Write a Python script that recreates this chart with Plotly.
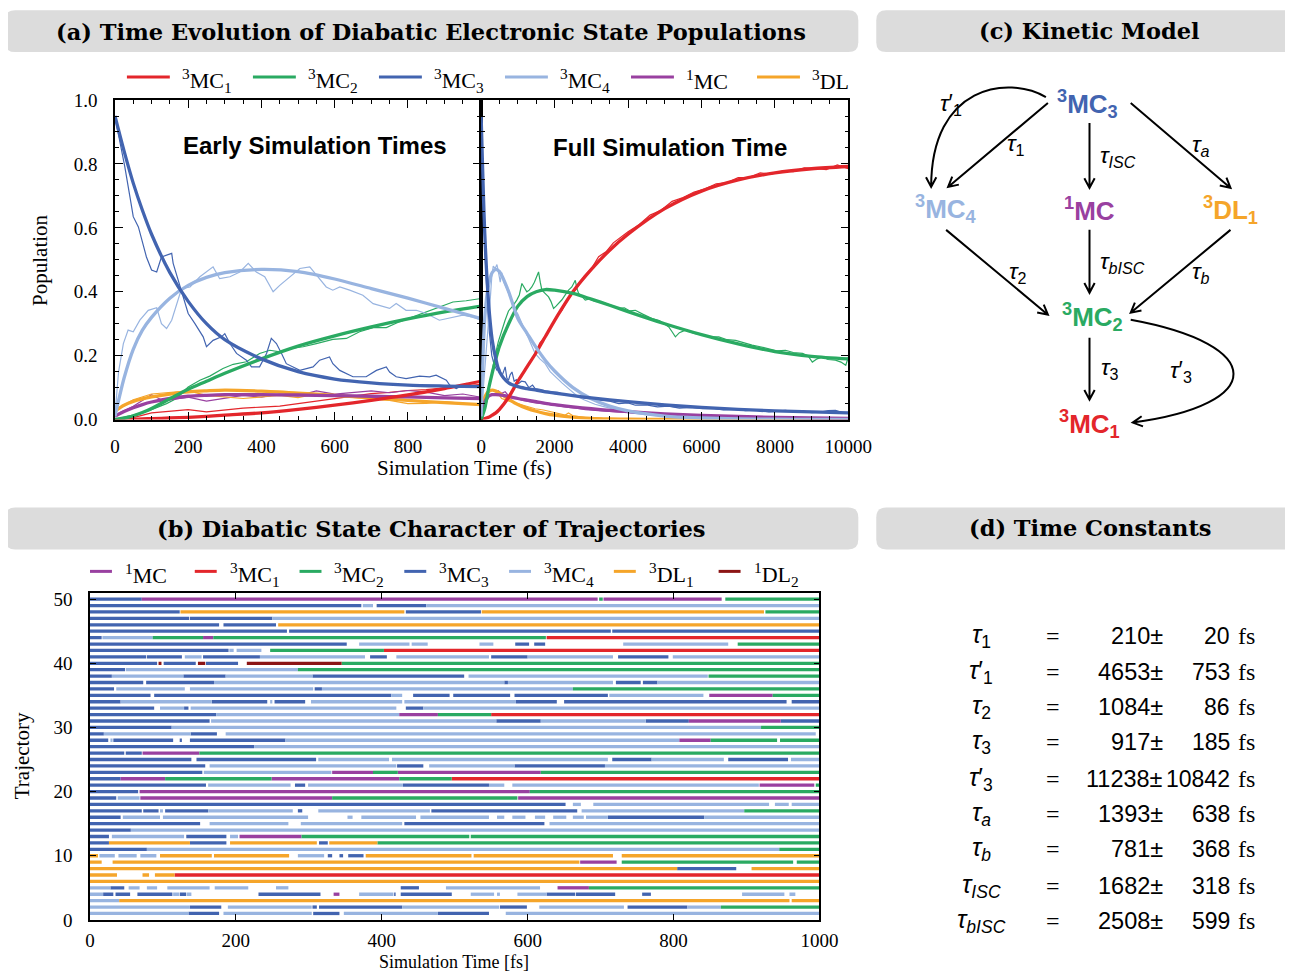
import math
import plotly.graph_objects as go

# The page photograph shows the figure as screen = S * page_px + (CX, CY); the html body adds an M px margin.
# Layout positions below are written in reference-picture pixels and mapped through that relation.
S, CX, CY, M = 0.98, 5.0, 10.0, 8.0
FW, FH = 1310, 982

# ---------------- DATA: panel (a) fitted kinetic-model curves ----------------
T_FIT_EARLY = [0, 25, 50, 75, 100, 150, 200, 250, 300, 400, 500, 600, 700, 800, 900, 1000]
FIT_EARLY_MC1 = [0, 0, 0.001, 0.002, 0.003, 0.005, 0.007, 0.01, 0.014, 0.021, 0.032, 0.045, 0.06, 0.077, 0.097, 0.12]
FIT_EARLY_MC2 = [0, 0.004, 0.012, 0.022, 0.035, 0.065, 0.095, 0.12, 0.145, 0.19, 0.23, 0.262, 0.29, 0.315, 0.337, 0.355]
FIT_EARLY_MC3 = [0.95, 0.84, 0.74, 0.655, 0.58, 0.46, 0.37, 0.30, 0.25, 0.19, 0.15, 0.127, 0.115, 0.108, 0.105, 0.103]
FIT_EARLY_MC4 = [0.01, 0.13, 0.22, 0.28, 0.32, 0.38, 0.42, 0.445, 0.46, 0.47, 0.463, 0.44, 0.41, 0.38, 0.348, 0.316]
FIT_EARLY_1MC = [0.01, 0.025, 0.037, 0.047, 0.055, 0.066, 0.073, 0.076, 0.078, 0.078, 0.077, 0.075, 0.073, 0.071, 0.068, 0.066]
FIT_EARLY_DL = [0.027, 0.045, 0.057, 0.065, 0.071, 0.08, 0.087, 0.09, 0.092, 0.089, 0.083, 0.076, 0.068, 0.06, 0.053, 0.047]

T_FIT_FULL = [0, 100, 200, 300, 400, 500, 750, 1000, 1250, 1500, 1750, 2000, 2500, 3000, 3500, 4000, 5000, 6000, 7000, 8000, 9000, 10000]
FIT_FULL_MC1 = [0, 0.003, 0.007, 0.014, 0.021, 0.032, 0.07, 0.12, 0.165, 0.21, 0.26, 0.31, 0.40, 0.47, 0.53, 0.58, 0.66, 0.715, 0.75, 0.772, 0.785, 0.792]
FIT_FULL_MC2 = [0, 0.035, 0.095, 0.145, 0.19, 0.23, 0.3, 0.355, 0.385, 0.4, 0.407, 0.405, 0.395, 0.377, 0.358, 0.338, 0.3, 0.266, 0.237, 0.213, 0.198, 0.19]
FIT_FULL_MC3 = [0.95, 0.58, 0.37, 0.25, 0.19, 0.15, 0.115, 0.103, 0.097, 0.092, 0.087, 0.083, 0.075, 0.068, 0.062, 0.056, 0.046, 0.038, 0.032, 0.027, 0.024, 0.021]
FIT_FULL_MC4 = [0.01, 0.32, 0.42, 0.46, 0.47, 0.463, 0.40, 0.316, 0.27, 0.225, 0.185, 0.152, 0.1, 0.065, 0.042, 0.027, 0.011, 0.005, 0.002, 0.001, 0.0005, 0.0002]
FIT_FULL_1MC = [0.01, 0.055, 0.073, 0.078, 0.078, 0.077, 0.072, 0.066, 0.061, 0.056, 0.051, 0.047, 0.04, 0.034, 0.029, 0.025, 0.018, 0.013, 0.01, 0.007, 0.005, 0.004]
FIT_FULL_DL = [0.027, 0.071, 0.087, 0.092, 0.089, 0.083, 0.064, 0.047, 0.035, 0.026, 0.019, 0.014, 0.008, 0.004, 0.002, 0.001, 0.0005, 0, 0, 0, 0, 0]

# ---------------- DATA: panel (a) raw populations (early times) ----------------
RAW_EARLY_MC3 = [(0, 0.948), (27, 0.791), (41, 0.697), (50, 0.635), (64, 0.603), (86, 0.509), (100, 0.468), (114, 0.462),
                 (127, 0.509), (141, 0.515), (155, 0.52), (159, 0.489), (182, 0.405), (200, 0.332), (218, 0.301), (241, 0.259),
                 (250, 0.228), (268, 0.248), (291, 0.259), (300, 0.269), (314, 0.238), (332, 0.207), (359, 0.186), (373, 0.165),
                 (395, 0.165), (414, 0.207), (427, 0.254), (441, 0.238), (455, 0.207), (468, 0.175), (505, 0.154), (541, 0.165),
                 (559, 0.186), (586, 0.196), (595, 0.175), (614, 0.154), (650, 0.134), (686, 0.134), (714, 0.154), (741, 0.165),
                 (750, 0.149), (768, 0.134), (795, 0.128), (832, 0.136), (859, 0.134), (877, 0.139), (905, 0.123), (914, 0.108),
                 (932, 0.097), (959, 0.113), (977, 0.102), (1000, 0.102)]
RAW_EARLY_MC4 = [(0, 0.014), (10, 0.15), (23, 0.238), (36, 0.28), (50, 0.275), (68, 0.311), (91, 0.342), (114, 0.35), (127, 0.3),
                 (141, 0.285), (155, 0.311), (182, 0.41), (205, 0.415), (232, 0.447), (268, 0.478), (286, 0.441), (314, 0.447),
                 (341, 0.462), (364, 0.489), (386, 0.462), (409, 0.447), (432, 0.4), (450, 0.42), (477, 0.447), (505, 0.473),
                 (532, 0.478), (550, 0.452), (577, 0.415), (595, 0.405), (614, 0.415), (641, 0.405), (677, 0.389), (705, 0.363),
                 (732, 0.353), (750, 0.348), (768, 0.363), (795, 0.342), (823, 0.342), (850, 0.332), (886, 0.311), (923, 0.321),
                 (950, 0.327), (977, 0.321), (1000, 0.311)]
RAW_EARLY_MC2 = [(0, 0.003), (50, 0.014), (95, 0.029), (141, 0.05), (168, 0.066), (200, 0.102), (232, 0.123), (259, 0.136),
                 (295, 0.16), (323, 0.173), (359, 0.181), (395, 0.207), (423, 0.217), (450, 0.212), (477, 0.222), (514, 0.228),
                 (550, 0.238), (595, 0.251), (632, 0.254), (668, 0.275), (705, 0.288), (741, 0.288), (777, 0.306), (814, 0.322),
                 (850, 0.337), (886, 0.353), (923, 0.368), (959, 0.372), (1000, 0.379)]
RAW_EARLY_MC1 = [(0, 0), (50, 0.006), (100, 0.021), (150, 0.025), (200, 0.031), (250, 0.024), (300, 0.03), (350, 0.036),
                 (400, 0.039), (450, 0.042), (500, 0.05), (550, 0.058), (600, 0.066), (650, 0.074), (700, 0.081), (750, 0.085),
                 (800, 0.091), (850, 0.094), (900, 0.1), (950, 0.106), (1000, 0.11)]
RAW_EARLY_1MC = [(0, 0.014), (50, 0.042), (100, 0.078), (130, 0.06), (150, 0.062), (200, 0.07), (250, 0.058), (300, 0.066),
                 (350, 0.076), (400, 0.07), (450, 0.08), (500, 0.074), (550, 0.09), (600, 0.08), (650, 0.086), (700, 0.09),
                 (750, 0.084), (800, 0.091), (850, 0.086), (900, 0.075), (950, 0.08), (1000, 0.07)]
RAW_EARLY_DL = [(0, 0.03), (50, 0.062), (100, 0.08), (150, 0.086), (200, 0.09), (250, 0.076), (300, 0.07), (350, 0.066),
                (400, 0.071), (450, 0.076), (500, 0.069), (550, 0.08), (600, 0.074), (650, 0.07), (700, 0.064), (750, 0.06),
                (800, 0.05), (850, 0.051), (900, 0.056), (950, 0.05), (1000, 0.045)]

# ---------------- DATA: panel (a) raw populations (full time) ----------------
RAW_FULL_MC3 = [(0, 0.95), (50, 0.75), (110, 0.51), (200, 0.30), (290, 0.2), (360, 0.17), (430, 0.155), (500, 0.16), (560, 0.134),
                (610, 0.15), (655, 0.165), (700, 0.13), (745, 0.123), (790, 0.14), (840, 0.149), (900, 0.12), (960, 0.125),
                (1020, 0.113), (1100, 0.12), (1200, 0.118), (1300, 0.1), (1400, 0.108), (1470, 0.097), (1600, 0.095),
                (1750, 0.09), (1930, 0.087), (2100, 0.085), (2250, 0.078), (2380, 0.076), (2600, 0.073), (2840, 0.066),
                (3050, 0.065), (3290, 0.06), (3500, 0.058), (3750, 0.05), (4000, 0.052), (4200, 0.045), (4500, 0.046),
                (4800, 0.04), (5100, 0.042), (5400, 0.036), (5700, 0.038), (6020, 0.034), (6300, 0.035), (6600, 0.03),
                (6930, 0.032), (7200, 0.028), (7500, 0.03), (7840, 0.024), (8100, 0.028), (8290, 0.029), (8500, 0.025),
                (8750, 0.027), (9000, 0.022), (9200, 0.023), (9450, 0.028), (9650, 0.029), (9850, 0.022), (10000, 0.019)]
RAW_FULL_MC4 = [(0, 0.01), (100, 0.15), (200, 0.3), (250, 0.38), (290, 0.447), (330, 0.48), (380, 0.473), (430, 0.485),
                (470, 0.462), (520, 0.43), (560, 0.46), (620, 0.43), (680, 0.415), (745, 0.395), (800, 0.38), (860, 0.36),
                (930, 0.342), (1000, 0.33), (1080, 0.31), (1150, 0.29), (1200, 0.28), (1300, 0.25), (1400, 0.225),
                (1470, 0.207), (1600, 0.19), (1745, 0.175), (1880, 0.15), (2020, 0.134), (2200, 0.115), (2380, 0.097),
                (2500, 0.085), (2650, 0.071), (2800, 0.062), (2930, 0.055), (3100, 0.048), (3290, 0.042), (3500, 0.035),
                (3745, 0.029), (4000, 0.022), (4200, 0.019), (4600, 0.014), (5100, 0.01), (6000, 0.008), (6930, 0.006),
                (8000, 0.004), (9000, 0.003), (10000, 0.003)]
RAW_FULL_MC2 = [(0, 0), (100, 0.04), (200, 0.09), (290, 0.15), (380, 0.2), (470, 0.245), (560, 0.28), (650, 0.31), (745, 0.34),
                (860, 0.355), (970, 0.374), (1040, 0.39), (1110, 0.426), (1180, 0.41), (1245, 0.4), (1310, 0.405), (1380, 0.415),
                (1450, 0.43), (1510, 0.445), (1564, 0.462), (1610, 0.43), (1655, 0.405), (1740, 0.395), (1836, 0.384),
                (1900, 0.37), (1973, 0.348), (2040, 0.355), (2110, 0.363), (2200, 0.375), (2290, 0.39), (2380, 0.405),
                (2470, 0.415), (2564, 0.436), (2610, 0.41), (2655, 0.395), (2750, 0.385), (2836, 0.374), (2950, 0.378),
                (3100, 0.37), (3290, 0.368), (3450, 0.36), (3600, 0.355), (3745, 0.348), (3900, 0.35), (4050, 0.34),
                (4200, 0.342), (4400, 0.33), (4655, 0.316), (4850, 0.31), (5000, 0.3), (5110, 0.29), (5200, 0.275),
                (5290, 0.259), (5400, 0.272), (5560, 0.28), (5800, 0.27), (6020, 0.264), (6250, 0.26), (6470, 0.259),
                (6700, 0.25), (6930, 0.248), (7150, 0.24), (7380, 0.233), (7600, 0.228), (7840, 0.222), (8050, 0.215),
                (8290, 0.217), (8500, 0.21), (8750, 0.207), (8900, 0.2), (9020, 0.18), (9150, 0.19), (9290, 0.196),
                (9450, 0.188), (9650, 0.186), (9800, 0.18), (9930, 0.17), (10000, 0.196)]
RAW_FULL_MC1 = [(0, 0), (200, 0.005), (400, 0.022), (600, 0.047), (800, 0.083), (1000, 0.117), (1200, 0.158), (1400, 0.19),
                (1600, 0.24), (1800, 0.268), (2000, 0.313), (2200, 0.342), (2400, 0.385), (2600, 0.41), (2800, 0.448),
                (3000, 0.472), (3200, 0.51), (3400, 0.525), (3600, 0.553), (3800, 0.57), (4000, 0.588), (4300, 0.61),
                (4600, 0.64), (4900, 0.655), (5200, 0.683), (5500, 0.695), (5800, 0.712), (6100, 0.722), (6400, 0.738),
                (6700, 0.742), (7000, 0.757), (7300, 0.758), (7600, 0.772), (7900, 0.768), (8200, 0.778), (8500, 0.776),
                (8800, 0.788), (9100, 0.786), (9400, 0.782), (9700, 0.797), (10000, 0.785)]
RAW_FULL_1MC = [(0, 0.003), (100, 0.04), (200, 0.071), (290, 0.08), (380, 0.076), (470, 0.09), (560, 0.082), (655, 0.087),
                (745, 0.075), (840, 0.071), (950, 0.068), (1110, 0.061), (1250, 0.058), (1470, 0.052), (1700, 0.05),
                (1930, 0.045), (2150, 0.042), (2380, 0.038), (2600, 0.036), (2840, 0.031), (3050, 0.03), (3290, 0.027),
                (3700, 0.024), (4200, 0.021), (4600, 0.02), (5100, 0.017), (5600, 0.015), (6100, 0.012), (6930, 0.01),
                (7800, 0.008), (8750, 0.006), (10000, 0.004)]
RAW_FULL_DL = [(0, 0.015), (80, 0.06), (150, 0.087), (220, 0.09), (290, 0.094), (360, 0.09), (430, 0.087), (500, 0.075),
               (560, 0.066), (700, 0.06), (840, 0.055), (980, 0.05), (1110, 0.045), (1300, 0.038), (1470, 0.034),
               (1700, 0.03), (1930, 0.024), (2100, 0.02), (2290, 0.014), (2380, 0.021), (2500, 0.012), (2840, 0.006),
               (3300, 0.004), (4200, 0.003), (6000, 0.002), (10000, 0.001)]

# ---------------- DATA: panel (b) state of each trajectory over time ----------------
TRAJ_SEGMENTS = {
    50: [("MC3", 0, 71), ("1MC", 71, 696), ("MC2", 698, 703), ("1MC", 704, 866), ("MC2", 871, 1000)],
    49: [("MC3", 0, 372), ("MC4", 374, 388), ("MC3", 393, 461), ("MC4", 461, 1000)],
    48: [("MC3", 0, 123), ("DL1", 124, 431), ("MC3", 433, 536), ("DL1", 537, 924), ("MC2", 926, 1000)],
    47: [("MC3", 0, 136), ("MC3", 137, 250), ("MC4", 250, 1000)],
    46: [("MC3", 0, 177), ("MC3", 183, 255), ("DL1", 258, 1000)],
    45: [("MC3", 0, 270), ("MC3", 273, 714), ("MC3", 716, 1000)],
    44: [("MC3", 0, 16), ("MC4", 17, 86), ("MC2", 86, 155), ("1MC", 155, 169), ("MC2", 169, 625), ("MC1", 626, 1000)],
    43: [("MC3", 0, 352), ("MC4", 369, 438), ("MC4", 441, 463), ("MC4", 534, 553), ("MC3", 583, 602), ("MC3", 609, 624),
         ("MC4", 731, 875), ("MC2", 888, 1000)],
    42: [("MC3", 0, 190), ("MC4", 191, 197), ("MC4", 201, 235), ("MC2", 247, 403), ("MC1", 403, 1000)],
    41: [("MC3", 0, 77), ("MC3", 78, 126), ("MC4", 130, 153), ("MC3", 155, 233), ("MC4", 233, 377), ("MC3", 384, 407),
         ("MC4", 420, 547), ("MC3", 550, 600), ("MC4", 600, 717), ("MC3", 724, 793), ("MC4", 799, 1000)],
    40: [("MC3", 0, 92), ("DL2", 94, 98), ("MC3", 101, 145), ("DL2", 148, 158), ("MC3", 159, 203), ("DL2", 215, 345),
         ("MC2", 345, 1000)],
    39: [("MC3", 0, 48), ("MC4", 49, 285), ("MC2", 285, 1000)],
    38: [("MC3", 0, 30), ("MC4", 30, 128), ("MC3", 128, 186), ("MC4", 186, 305), ("MC3", 305, 513), ("MC4", 519, 847),
         ("MC2", 848, 1000)],
    37: [("MC3", 0, 73), ("MC3", 77, 170), ("MC4", 170, 568), ("MC3", 568, 573), ("MC4", 573, 717), ("MC3", 721, 755),
         ("MC3", 758, 778), ("MC4", 778, 1000)],
    36: [("MC3", 0, 33), ("MC4", 36, 130), ("MC4", 137, 306), ("MC3", 308, 318), ("MC4", 318, 662), ("MC2", 662, 1000)],
    35: [("MC3", 0, 83), ("MC3", 88, 413), ("MC4", 413, 428), ("MC3", 443, 493), ("MC3", 498, 576), ("MC3", 582, 710),
         ("MC4", 712, 841), ("1MC", 849, 936), ("MC2", 936, 1000)],
    34: [("MC3", 0, 42), ("MC4", 42, 167), ("MC3", 167, 243), ("MC4", 247, 250), ("MC3", 253, 295), ("MC4", 303, 428),
         ("MC4", 431, 584), ("MC3", 584, 640), ("MC3", 650, 955), ("MC3", 962, 1000)],
    33: [("MC3", 0, 88), ("MC4", 96, 129), ("MC3", 129, 135), ("MC4", 138, 420), ("MC3", 433, 457), ("MC4", 457, 1000)],
    32: [("MC3", 0, 173), ("MC4", 173, 424), ("1MC", 424, 477), ("MC2", 477, 550), ("MC1", 550, 1000)],
    31: [("MC3", 0, 164), ("MC4", 166, 557), ("MC3", 557, 618), ("MC4", 618, 762), ("MC3", 762, 821), ("1MC", 821, 947),
         ("MC3", 947, 1000)],
    30: [("MC3", 0, 112), ("MC4", 112, 920), ("MC2", 920, 1000)],
    29: [("MC3", 0, 19), ("MC4", 19, 138), ("MC3", 138, 174), ("MC4", 186, 995)],
    28: [("MC3", 0, 25), ("MC4", 28, 31), ("MC3", 32, 114), ("MC3", 123, 126), ("MC3", 137, 268), ("MC4", 268, 808),
         ("1MC", 808, 851), ("MC2", 851, 942), ("MC2", 946, 1000)],
    27: [("MC3", 0, 225), ("MC4", 225, 1000)],
    26: [("MC3", 0, 47), ("MC3", 49, 71), ("1MC", 72, 150), ("MC2", 150, 1000)],
    25: [("MC3", 0, 139), ("MC3", 146, 310), ("MC4", 313, 410), ("MC4", 414, 710), ("MC3", 716, 770), ("MC4", 770, 869),
         ("MC3", 875, 957), ("MC4", 961, 1000)],
    24: [("MC3", 0, 158), ("MC4", 164, 420), ("MC3", 421, 457), ("MC4", 465, 582), ("MC3", 582, 706), ("MC4", 706, 1000)],
    23: [("MC3", 0, 154), ("MC4", 156, 331), ("1MC", 332, 388), ("MC2", 388, 422), ("1MC", 422, 618), ("MC2", 618, 1000)],
    22: [("MC3", 0, 42), ("1MC", 42, 103), ("MC2", 103, 249), ("1MC", 249, 424), ("MC2", 424, 496), ("MC1", 496, 1000)],
    21: [("MC3", 0, 159), ("MC4", 162, 275), ("MC3", 281, 295), ("MC4", 299, 429), ("MC3", 429, 547), ("MC4", 547, 568),
         ("MC4", 579, 917), ("1MC", 918, 993), ("MC2", 995, 1000)],
    20: [("MC3", 0, 66), ("1MC", 68, 603), ("MC2", 603, 1000)],
    19: [("MC3", 0, 36), ("MC4", 38, 68), ("1MC", 69, 332), ("MC2", 332, 586), ("1MC", 587, 1000)],
    18: [("MC3", 0, 652), ("MC4", 662, 673), ("MC4", 690, 931), ("MC4", 939, 958), ("MC4", 962, 1000)],
    17: [("MC3", 0, 71), ("MC3", 73, 94), ("MC4", 96, 100), ("MC3", 103, 162), ("MC4", 162, 278), ("MC3", 285, 291),
         ("MC4", 313, 466), ("MC3", 468, 668), ("MC4", 674, 897), ("MC2", 897, 1000)],
    16: [("MC3", 0, 42), ("MC4", 45, 96), ("MC4", 100, 299), ("MC4", 353, 360), ("MC4", 372, 447), ("MC4", 453, 547),
         ("MC4", 558, 568), ("MC4", 579, 597), ("MC4", 610, 624), ("MC4", 635, 653), ("MC4", 662, 677), ("MC4", 680, 710),
         ("MC3", 710, 842), ("MC4", 842, 1000)],
    15: [("MC3", 0, 151), ("MC4", 164, 272), ("MC4", 289, 428), ("MC3", 431, 623), ("MC4", 630, 1000)],
    14: [("MC3", 0, 56), ("MC4", 56, 1000)],
    13: [("MC3", 0, 26), ("MC4", 30, 129), ("MC3", 132, 187), ("MC4", 192, 203), ("1MC", 205, 290), ("MC2", 290, 520),
         ("MC2", 522, 1000)],
    12: [("MC3", 0, 26), ("DL1", 26, 137), ("MC3", 137, 187), ("DL1", 192, 311), ("MC3", 314, 326), ("DL1", 328, 394),
         ("MC2", 394, 1000)],
    11: [("MC3", 0, 78), ("MC4", 78, 945), ("MC2", 945, 1000)],
    10: [("DL1", 0, 11), ("MC4", 13, 34), ("MC4", 39, 64), ("MC4", 69, 91), ("DL1", 96, 167), ("DL1", 170, 273),
         ("MC4", 285, 321), ("MC3", 326, 332), ("MC3", 342, 347), ("MC3", 354, 375), ("DL1", 378, 523), ("DL1", 526, 717),
         ("DL1", 729, 1000)],
    9: [("DL1", 0, 16), ("DL1", 31, 671), ("1MC", 672, 722), ("MC2", 729, 964), ("MC2", 969, 1000)],
    8: [("DL1", 0, 805), ("MC3", 805, 886), ("DL1", 907, 1000)],
    7: [("DL1", 0, 37), ("DL1", 72, 81), ("DL1", 89, 116), ("MC1", 116, 1000)],
    6: [("DL1", 0, 1000)],
    5: [("MC4", 0, 28), ("MC3", 28, 47), ("MC4", 53, 68), ("MC4", 78, 92), ("MC4", 106, 164), ("MC4", 171, 217),
        ("MC4", 255, 272), ("MC3", 426, 451), ("MC4", 488, 617), ("1MC", 641, 684), ("MC2", 684, 1000)],
    4: [("MC4", 0, 18), ("MC3", 18, 32), ("MC3", 35, 55), ("MC3", 65, 113), ("MC4", 114, 122), ("MC3", 123, 132),
        ("MC4", 133, 139), ("MC3", 231, 316), ("1MC", 334, 342), ("MC4", 369, 416), ("MC3", 417, 419), ("MC3", 426, 496),
        ("MC4", 522, 554), ("MC4", 558, 562), ("MC4", 586, 626), ("MC3", 626, 665), ("MC3", 666, 720), ("MC3", 757, 769),
        ("MC4", 894, 952), ("MC4", 959, 967)],
    3: [("MC4", 0, 40), ("DL1", 40, 959), ("DL1", 962, 1000)],
    2: [("MC4", 0, 137), ("MC3", 137, 180), ("MC4", 189, 304), ("MC3", 305, 311), ("MC3", 314, 428), ("MC4", 428, 561),
        ("MC3", 562, 599), ("MC4", 616, 732), ("MC3", 737, 819), ("MC4", 819, 865), ("MC2", 865, 1000)],
    1: [("MC4", 0, 135), ("MC3", 135, 177), ("MC4", 183, 304), ("MC3", 306, 342), ("MC4", 348, 477), ("MC3", 477, 547),
        ("MC4", 570, 1000)],
}

# ---------------- DATA: panel (d) time constants ----------------
TAU_LABELS = ["<i>τ</i><sub>1</sub>", "<i>τ</i>′<sub>1</sub>", "<i>τ</i><sub>2</sub>", "<i>τ</i><sub>3</sub>",
              "<i>τ</i>′<sub>3</sub>", "<i>τ</i><sub><i>a</i></sub>", "<i>τ</i><sub><i>b</i></sub>",
              "<i>τ</i><sub><i>ISC</i></sub>", "<i>τ</i><sub><i>bISC</i></sub>"]
TAU_VALUES = [210, 4653, 1084, 917, 11238, 1393, 781, 1682, 2508]
TAU_ERRORS = [20, 753, 86, 185, 10842, 638, 368, 318, 599]

# ---------------- styles ----------------
COL = {"MC1": "#e3262b", "MC2": "#2aaa62", "MC3": "#4264b0", "MC4": "#98b4e0",
       "1MC": "#9940a0", "DL1": "#f5a52a", "DL2": "#8c1515"}
NAME = {"MC1": "<sup>3</sup>MC<sub>1</sub>", "MC2": "<sup>3</sup>MC<sub>2</sub>", "MC3": "<sup>3</sup>MC<sub>3</sub>",
        "MC4": "<sup>3</sup>MC<sub>4</sub>", "1MC": "<sup>1</sup>MC", "DL1": "<sup>3</sup>DL<sub>1</sub>",
        "DL2": "<sup>1</sup>DL<sub>2</sub>"}
LEG_A_NAME = dict(NAME, DL1="<sup>3</sup>DL")
SERIF = "Liberation Serif"
HSERIF = "DejaVu Serif"
SANS = "Liberation Sans"


def fx(x):
    return (x - CX) / S - M


def fy(y):
    return (y - CY) / S - M


def px(x):
    return fx(x) / FW


def py(y):
    return 1 - fy(y) / FH


fig = go.Figure()

# ---- panel (a) raw data (thin) ----
raw_early = {"MC1": RAW_EARLY_MC1, "MC2": RAW_EARLY_MC2, "MC3": RAW_EARLY_MC3, "MC4": RAW_EARLY_MC4,
             "1MC": RAW_EARLY_1MC, "DL1": RAW_EARLY_DL}
raw_full = {"MC1": RAW_FULL_MC1, "MC2": RAW_FULL_MC2, "MC3": RAW_FULL_MC3, "MC4": RAW_FULL_MC4,
            "1MC": RAW_FULL_1MC, "DL1": RAW_FULL_DL}
for st, pts in raw_early.items():
    fig.add_trace(go.Scatter(x=[p[0] for p in pts], y=[p[1] for p in pts], mode="lines", xaxis="x", yaxis="y",
                             line=dict(color=COL[st], width=1.2), showlegend=False, hoverinfo="skip"))
for st, pts in raw_full.items():
    fig.add_trace(go.Scatter(x=[p[0] for p in pts], y=[p[1] for p in pts], mode="lines", xaxis="x2", yaxis="y2",
                             line=dict(color=COL[st], width=1.2), showlegend=False, hoverinfo="skip"))

fit_early = {"MC1": FIT_EARLY_MC1, "MC2": FIT_EARLY_MC2, "MC3": FIT_EARLY_MC3, "MC4": FIT_EARLY_MC4,
             "1MC": FIT_EARLY_1MC, "DL1": FIT_EARLY_DL}
fit_full = {"MC1": FIT_FULL_MC1, "MC2": FIT_FULL_MC2, "MC3": FIT_FULL_MC3, "MC4": FIT_FULL_MC4,
            "1MC": FIT_FULL_1MC, "DL1": FIT_FULL_DL}
for st in ["DL1", "1MC", "MC1", "MC2", "MC4", "MC3"]:
    fig.add_trace(go.Scatter(x=T_FIT_EARLY, y=fit_early[st], mode="lines", xaxis="x", yaxis="y",
                             line=dict(color=COL[st], width=3.3, shape="spline", smoothing=0.8), showlegend=False))
    fig.add_trace(go.Scatter(x=T_FIT_FULL, y=fit_full[st], mode="lines", xaxis="x2", yaxis="y2",
                             line=dict(color=COL[st], width=3.3, shape="spline", smoothing=0.8), showlegend=False))

# ---- panel (b) segments ----
for st in ["MC3", "MC4", "1MC", "MC1", "MC2", "DL1", "DL2"]:
    xs, ys = [], []
    for traj, segs in TRAJ_SEGMENTS.items():
        for s, a, b in segs:
            if s == st:
                xs += [a, b, None]
                ys += [traj, traj, None]
    fig.add_trace(go.Scatter(x=xs, y=ys, mode="lines", xaxis="x3", yaxis="y3",
                             line=dict(color=COL[st], width=3.3), showlegend=False, hoverinfo="skip"))

axis_common = dict(showline=True, linecolor="black", linewidth=1.5, mirror="ticks", ticks="inside", ticklen=8,
                   tickwidth=1.2, tickcolor="black", showgrid=False, zeroline=False,
                   tickfont=dict(family=SERIF, size=19, color="black"))

shapes = []
annotations = []


def rounded_rect(x0, y0, x1, y1, r, color):
    p = (f"M {px(x0 + r)} {py(y0)} L {px(x1 - r)} {py(y0)} Q {px(x1)} {py(y0)} {px(x1)} {py(y0 + r)} "
         f"L {px(x1)} {py(y1 - r)} Q {px(x1)} {py(y1)} {px(x1 - r)} {py(y1)} L {px(x0 + r)} {py(y1)} "
         f"Q {px(x0)} {py(y1)} {px(x0)} {py(y1 - r)} L {px(x0)} {py(y0 + r)} Q {px(x0)} {py(y0)} {px(x0 + r)} {py(y0)} Z")
    return dict(type="path", xref="paper", yref="paper", path=p, fillcolor=color, line=dict(width=0), layer="below")


HDR = "#dcdcdc"
shapes.append(rounded_rect(5, 10, 860, 52, 10, HDR))
shapes.append(rounded_rect(878, 10, 1320, 52, 10, HDR))
shapes.append(rounded_rect(5, 508, 860, 550, 10, HDR))
shapes.append(rounded_rect(878, 508, 1320, 550, 10, HDR))


def text(x, y, t, size, family=SERIF, color="black", xanchor="center", angle=0, bold=False):
    if bold:
        t = f"<b>{t}</b>"
    annotations.append(dict(x=px(x), y=py(y), xref="paper", yref="paper", text=t, showarrow=False,
                            font=dict(family=family, size=size, color=color), xanchor=xanchor, yanchor="middle",
                            textangle=angle))


text(432, 32, "(a) Time Evolution of Diabatic Electronic State Populations", 22.5, family=HSERIF, bold=True)
text(432, 530, "(b) Diabatic State Character of Trajectories", 22.5, family=HSERIF, bold=True)
text(1092, 31, "(c) Kinetic Model", 22.5, family=HSERIF, bold=True)
text(1092, 529, "(d) Time Constants", 22.5, family=HSERIF, bold=True)

# legend (a)
for k, st in enumerate(["MC1", "MC2", "MC3", "MC4", "1MC", "DL1"]):
    x0 = 127 + k * 126.3
    shapes.append(dict(type="line", xref="paper", yref="paper", x0=px(x0), x1=px(x0 + 43), y0=py(77), y1=py(77),
                       line=dict(color=COL[st], width=3)))
    text(x0 + 53, 80, LEG_A_NAME[st], 22, xanchor="left")

# legend (b)
for k, st in enumerate(["1MC", "MC1", "MC2", "MC3", "MC4", "DL1", "DL2"]):
    x0 = 90 + k * 105
    shapes.append(dict(type="line", xref="paper", yref="paper", x0=px(x0), x1=px(x0 + 22), y0=py(572), y1=py(572),
                       line=dict(color=COL[st], width=3)))
    text(x0 + 33, 575, NAME[st], 22, xanchor="left")

# axis titles
text(40, 260, "Population", 21, angle=-90)
text(465, 468, "Simulation Time (fs)", 21)
text(22, 757, "Trajectory", 21, angle=-90)
text(455, 963, "Simulation Time [fs]", 18)
text(315, 146, "Early Simulation Times", 24, family=SANS, bold=True)
text(671, 148, "Full Simulation Time", 24, family=SANS, bold=True)

# ---- panel (c) kinetic model ----
NODES = {"MC3": (1090, 104), "MC4": (948, 209), "1MC": (1092, 210), "DL1": (1233, 210), "MC2": (1095, 317),
         "MC1": (1092, 424)}
for st, (x, y) in NODES.items():
    text(x, y, NAME[st], 26, family=SANS, color=COL[st], bold=True)


def head(tip, frm, L=11, ang=28):
    dx, dy = tip[0] - frm[0], tip[1] - frm[1]
    n = math.hypot(dx, dy)
    dx, dy = dx / n, dy / n
    pts = []
    for a in (ang, -ang):
        r = math.radians(a)
        rx = dx * math.cos(r) - dy * math.sin(r)
        ry = dx * math.sin(r) + dy * math.cos(r)
        pts.append((tip[0] - L * rx, tip[1] - L * ry))
    return f"M {px(pts[0][0])} {py(pts[0][1])} L {px(tip[0])} {py(tip[1])} L {px(pts[1][0])} {py(pts[1][1])}"


def arrow(p0, p1):
    path = f"M {px(p0[0])} {py(p0[1])} L {px(p1[0])} {py(p1[1])} " + head(p1, p0)
    shapes.append(dict(type="path", xref="paper", yref="paper", path=path, line=dict(color="black", width=2)))


def curved(p0, c1, c2, p3):
    path = (f"M {px(p0[0])} {py(p0[1])} C {px(c1[0])} {py(c1[1])} {px(c2[0])} {py(c2[1])} {px(p3[0])} {py(p3[1])} "
            + head(p3, c2))
    shapes.append(dict(type="path", xref="paper", yref="paper", path=path, line=dict(color="black", width=2)))


arrow((1091.7, 123), (1091.7, 188))
arrow((1050, 103), (950, 187))
arrow((1133, 103), (1233, 188))
arrow((948, 230), (1050, 315))
arrow((1091.7, 230), (1091.7, 293))
arrow((1233, 230), (1133, 313))
arrow((1091.7, 338), (1091.7, 400))
curved((1048, 97), (1010, 75), (933, 85), (933, 187))
curved((1133, 320), (1270, 345), (1270, 405), (1135, 423))

for lab, (x, y) in [("<i>τ</i>′<sub>1</sub>", (953, 104)), ("<i>τ</i><sub>1</sub>", (1018, 145)),
                    ("<i>τ</i><sub><i>ISC</i></sub>", (1120, 157)), ("<i>τ</i><sub><i>a</i></sub>", (1203, 146)),
                    ("<i>τ</i><sub>2</sub>", (1020, 273)), ("<i>τ</i><sub><i>bISC</i></sub>", (1125, 263)),
                    ("<i>τ</i><sub><i>b</i></sub>", (1203, 273)), ("<i>τ</i><sub>3</sub>", (1112, 369)),
                    ("<i>τ</i>′<sub>3</sub>", (1183, 372))]:
    text(x, y, lab, 23, family=SANS)

# ---- panel (d) table ----
ROW_Y = [637, 673, 708, 743, 780, 815, 850, 887, 922]
for lab, v, e, y in zip(TAU_LABELS, TAU_VALUES, TAU_ERRORS, ROW_Y):
    text(983, y, lab, 25, family=SANS)
    text(1055, y, "=", 24, family=SERIF)
    text(1167, y, f"{v}±", 23.5, family=SANS, xanchor="right")
    text(1235, y, f"{e}", 23, family=SANS, xanchor="right")
    text(1239, y, "fs", 24, family=SERIF, xanchor="left")

fig.update_layout(
    width=FW, height=FH, margin=dict(l=0, r=0, t=0, b=0), paper_bgcolor="white", plot_bgcolor="white",
    showlegend=False,
    xaxis=dict(axis_common, domain=[px(115), px(482)], range=[0, 1000], tickvals=[0, 200, 400, 600, 800],
               minor=dict(ticks="inside", ticklen=4, dtick=50, tickcolor="black", showgrid=False),
               anchor="y", ticklabelstandoff=9),
    yaxis=dict(axis_common, domain=[py(420), py(100)], range=[0, 1], dtick=0.2, tickformat=".1f",
               minor=dict(ticks="inside", ticklen=4, dtick=0.05, tickcolor="black", showgrid=False),
               anchor="x", ticklabelstandoff=12),
    xaxis2=dict(axis_common, domain=[px(482), px(850)], range=[0, 10000], dtick=2000, tickformat="d",
                minor=dict(ticks="inside", ticklen=4, dtick=500, tickcolor="black", showgrid=False),
                anchor="y2", ticklabelstandoff=9),
    yaxis2=dict(axis_common, domain=[py(420), py(100)], range=[0, 1], dtick=0.2, showticklabels=False,
                minor=dict(ticks="inside", ticklen=4, dtick=0.05, tickcolor="black", showgrid=False),
                anchor="x2"),
    xaxis3=dict(axis_common, domain=[px(90), px(821)], range=[0, 1000], dtick=200, ticklen=6,
                anchor="y3", ticklabelstandoff=3),
    yaxis3=dict(axis_common, domain=[py(921), py(594)], range=[0, 50.9], dtick=10, ticklen=6,
                anchor="x3", ticklabelstandoff=12),
    shapes=shapes, annotations=annotations,
)

fig.write_html("out.html")
